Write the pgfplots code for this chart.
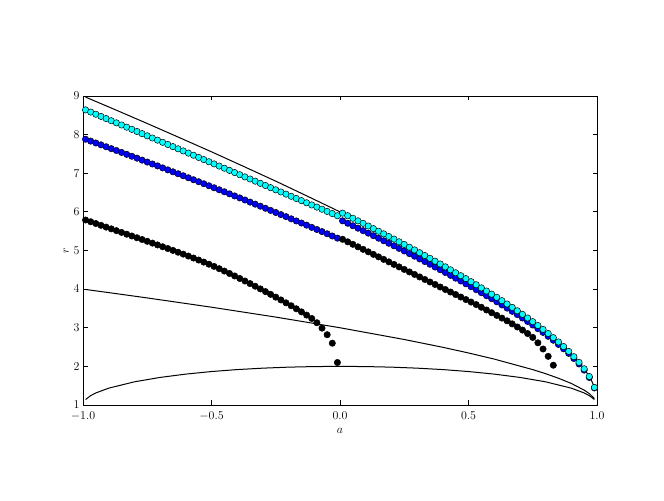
\documentclass[border=0pt]{standalone}
\usepackage{pgfplots}
\pgfplotsset{compat=1.18}

\definecolor{mcyan}{RGB}{0,255,255}
\definecolor{mblue}{RGB}{0,0,255}

\begin{document}
\begin{tikzpicture}
\path (0,0) rectangle (664bp,501bp);

\begin{axis}[
    at={(83bp,96bp)},
    anchor=south west,
    width=514bp,
    height=309bp,
    scale only axis,
    xmin=-1, xmax=1,
    ymin=1, ymax=9,
    xtick={-1,-0.5,0,0.5,1},
    xticklabels={$-1.0$,$-0.5$,$0.0$,$0.5$,$1.0$},
    ytick={1,2,3,4,5,6,7,8,9},
    tick align=inside,
    tick pos=both,
    major tick length=4.5bp,
    axis line style={line width=0.8bp},
    every tick/.style={black, line width=0.8bp},
    ticklabel style={font=\fontsize{12}{14}\selectfont},
    xticklabel style={yshift=-3bp},
    label style={font=\fontsize{12}{14}\selectfont},
    xlabel={$a$},
    ylabel={$r$},
    xlabel style={yshift=-1bp},
    ylabel style={yshift=-2bp},
    clip marker paths=false,
]

% --- a < 0 branches ---
\addplot[only marks, mark=*, mark size=3.2bp,
    mark options={draw=black, line width=0.5bp, fill=black}] coordinates {
(-0.99,5.790)(-0.97,5.744)(-0.95,5.698)(-0.93,5.652)(-0.91,5.606)(-0.89,5.560)
(-0.87,5.514)(-0.85,5.468)(-0.83,5.422)(-0.81,5.376)(-0.79,5.330)(-0.77,5.284)
(-0.75,5.238)(-0.73,5.191)(-0.71,5.144)(-0.69,5.097)(-0.67,5.050)(-0.65,5.003)
(-0.63,4.955)(-0.61,4.906)(-0.59,4.856)(-0.57,4.805)(-0.55,4.753)(-0.53,4.700)
(-0.51,4.645)(-0.49,4.588)(-0.47,4.529)(-0.45,4.468)(-0.43,4.405)(-0.41,4.341)
(-0.39,4.276)(-0.37,4.210)(-0.35,4.143)(-0.33,4.075)(-0.31,4.006)(-0.29,3.936)
(-0.27,3.865)(-0.25,3.793)(-0.23,3.720)(-0.21,3.645)(-0.19,3.569)(-0.17,3.491)
(-0.15,3.411)(-0.13,3.328)(-0.11,3.240)(-0.09,3.130)(-0.07,2.990)(-0.05,2.820)
(-0.03,2.600)(-0.01,2.100)};

\addplot[only marks, mark=*, mark size=3.2bp,
    mark options={draw=black, line width=0.5bp, fill=mblue}] coordinates {
(-0.99,7.880)(-0.97,7.832)(-0.95,7.784)(-0.93,7.735)(-0.91,7.686)(-0.89,7.637)
(-0.87,7.589)(-0.85,7.539)(-0.83,7.489)(-0.81,7.440)(-0.79,7.391)(-0.77,7.340)
(-0.75,7.290)(-0.73,7.240)(-0.71,7.190)(-0.69,7.139)(-0.67,7.088)(-0.65,7.037)
(-0.63,6.987)(-0.61,6.935)(-0.59,6.883)(-0.57,6.832)(-0.55,6.781)(-0.53,6.728)
(-0.51,6.676)(-0.49,6.624)(-0.47,6.572)(-0.45,6.520)(-0.43,6.466)(-0.41,6.413)
(-0.39,6.361)(-0.37,6.308)(-0.35,6.253)(-0.33,6.200)(-0.31,6.147)(-0.29,6.093)
(-0.27,6.038)(-0.25,5.984)(-0.23,5.930)(-0.21,5.876)(-0.19,5.820)(-0.17,5.765)
(-0.15,5.711)(-0.13,5.656)(-0.11,5.599)(-0.09,5.544)(-0.07,5.489)(-0.05,5.433)
(-0.03,5.376)(-0.01,5.320)};

\addplot[only marks, mark=*, mark size=3.2bp,
    mark options={draw=black, line width=0.5bp, fill=mcyan}] coordinates {
(-0.99,8.640)(-0.97,8.584)(-0.95,8.528)(-0.93,8.472)(-0.91,8.416)(-0.89,8.360)
(-0.87,8.305)(-0.85,8.249)(-0.83,8.193)(-0.81,8.137)(-0.79,8.081)(-0.77,8.025)
(-0.75,7.969)(-0.73,7.913)(-0.71,7.857)(-0.69,7.801)(-0.67,7.745)(-0.65,7.689)
(-0.63,7.633)(-0.61,7.578)(-0.59,7.522)(-0.57,7.466)(-0.55,7.410)(-0.53,7.354)
(-0.51,7.298)(-0.49,7.242)(-0.47,7.186)(-0.45,7.130)(-0.43,7.074)(-0.41,7.018)
(-0.39,6.962)(-0.37,6.906)(-0.35,6.851)(-0.33,6.795)(-0.31,6.739)(-0.29,6.683)
(-0.27,6.627)(-0.25,6.571)(-0.23,6.515)(-0.21,6.459)(-0.19,6.403)(-0.17,6.347)
(-0.15,6.291)(-0.13,6.235)(-0.11,6.179)(-0.09,6.124)(-0.07,6.068)(-0.05,6.012)
(-0.03,5.956)(-0.01,5.900)};

% --- a > 0 branches ---
\addplot[only marks, mark=*, mark size=3.2bp,
    mark options={draw=black, line width=0.5bp, fill=black}] coordinates {
(0.01,5.290)(0.03,5.225)(0.05,5.160)(0.07,5.095)(0.09,5.030)(0.11,4.965)
(0.13,4.900)(0.15,4.835)(0.17,4.770)(0.19,4.705)(0.21,4.640)(0.23,4.575)
(0.25,4.510)(0.27,4.445)(0.29,4.380)(0.31,4.315)(0.33,4.250)(0.35,4.185)
(0.37,4.120)(0.39,4.055)(0.41,3.990)(0.43,3.925)(0.45,3.860)(0.47,3.795)
(0.49,3.730)(0.51,3.665)(0.53,3.600)(0.55,3.530)(0.57,3.460)(0.59,3.390)
(0.61,3.320)(0.63,3.250)(0.65,3.180)(0.67,3.100)(0.69,3.020)(0.71,2.940)
(0.73,2.850)(0.75,2.750)(0.77,2.610)(0.79,2.450)(0.81,2.260)(0.83,2.030)};

\addplot[only marks, mark=*, mark size=3.2bp,
    mark options={draw=black, line width=0.5bp, fill=mblue}] coordinates {
(0.01,5.768)(0.03,5.705)(0.05,5.641)(0.07,5.577)(0.09,5.513)(0.11,5.449)
(0.13,5.383)(0.15,5.318)(0.17,5.252)(0.19,5.187)(0.21,5.121)(0.23,5.054)
(0.25,4.988)(0.27,4.919)(0.29,4.852)(0.31,4.783)(0.33,4.714)(0.35,4.644)
(0.37,4.572)(0.39,4.502)(0.41,4.430)(0.43,4.357)(0.45,4.284)(0.47,4.211)
(0.49,4.138)(0.51,4.063)(0.53,3.986)(0.55,3.908)(0.57,3.830)(0.59,3.753)
(0.61,3.673)(0.63,3.591)(0.65,3.509)(0.67,3.425)(0.69,3.340)(0.71,3.252)
(0.73,3.162)(0.75,3.071)(0.77,2.976)(0.79,2.880)(0.81,2.779)(0.83,2.676)
(0.85,2.568)(0.87,2.455)(0.89,2.337)(0.91,2.204)(0.93,2.063)(0.95,1.904)
(0.97,1.713)(0.99,1.442)};

\addplot[only marks, mark=*, mark size=3.2bp,
    mark options={draw=black, line width=0.5bp, fill=mcyan}] coordinates {
(0.01,5.967)(0.03,5.901)(0.05,5.835)(0.07,5.768)(0.09,5.702)(0.11,5.635)
(0.13,5.567)(0.15,5.499)(0.17,5.431)(0.19,5.363)(0.21,5.295)(0.23,5.225)
(0.25,5.156)(0.27,5.085)(0.29,5.015)(0.31,4.943)(0.33,4.871)(0.35,4.798)
(0.37,4.724)(0.39,4.651)(0.41,4.576)(0.43,4.500)(0.45,4.424)(0.47,4.348)
(0.49,4.272)(0.51,4.193)(0.53,4.113)(0.55,4.032)(0.57,3.951)(0.59,3.870)
(0.61,3.787)(0.63,3.701)(0.65,3.615)(0.67,3.528)(0.69,3.439)(0.71,3.347)
(0.73,3.253)(0.75,3.158)(0.77,3.059)(0.79,2.958)(0.81,2.853)(0.83,2.745)
(0.85,2.632)(0.87,2.514)(0.89,2.388)(0.91,2.251)(0.93,2.104)(0.95,1.937)
(0.97,1.737)(0.99,1.455)};

% --- reference curves: ISCO, photon orbit, horizon ---
\addplot[black, line width=1bp] coordinates {
(-0.99,8.972)(-0.875,8.646)(-0.75,8.288)(-0.625,7.923)(-0.5,7.555)
(-0.375,7.177)(-0.25,6.795)(-0.125,6.400)(0,6.000)
(0.1,5.669)(0.2,5.329)(0.3,4.979)(0.4,4.614)(0.5,4.233)(0.6,3.829)
(0.7,3.393)(0.75,3.158)(0.8,2.907)(0.85,2.632)(0.9,2.321)(0.93,2.104)
(0.95,1.937)(0.97,1.737)(0.98,1.614)(0.99,1.455)};

\addplot[black, line width=1bp] coordinates {
(-0.99,3.991)(-0.9,3.910)(-0.75,3.772)(-0.5,3.532)(-0.25,3.276)(0,3.000)
(0.25,2.696)(0.4,2.494)(0.5,2.347)(0.6,2.189)(0.75,1.916)(0.8,1.811)
(0.85,1.693)(0.9,1.558)(0.95,1.386)(0.97,1.295)(0.99,1.168)};

\addplot[black, line width=1bp] coordinates {
(-0.99,1.141)(-0.97,1.243)(-0.95,1.312)(-0.9,1.436)(-0.8,1.600)(-0.7,1.714)
(-0.6,1.800)(-0.5,1.866)(-0.4,1.917)(-0.3,1.954)(-0.2,1.980)(-0.1,1.995)
(0,2.000)(0.1,1.995)(0.2,1.980)(0.3,1.954)(0.4,1.917)(0.5,1.866)
(0.6,1.800)(0.7,1.714)(0.8,1.600)(0.9,1.436)(0.95,1.312)(0.97,1.243)
(0.99,1.141)};

\end{axis}
\end{tikzpicture}
\end{document}
